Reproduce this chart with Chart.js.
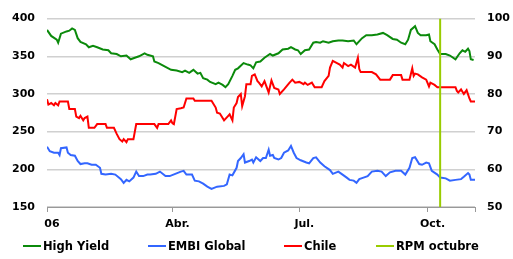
<!DOCTYPE html>
<html><head><meta charset="utf-8">
<script src="https://cdn.jsdelivr.net/npm/chart.js@4"></script>
<style>
html,body{margin:0;padding:0;background:#fff;}
#wrap{position:relative;width:513px;height:259px;overflow:hidden;}
#legend{position:absolute;left:0;top:239px;width:513px;height:16px;font:bold 11.5px "DejaVu Sans",sans-serif;color:#000;white-space:nowrap;line-height:14px;}
.item{position:absolute;top:0;display:flex;align-items:center;}
.sw{width:18px;height:2px;margin-right:2px;}
</style></head>
<body><div id="wrap"><canvas id="c" width="513" height="259"></canvas><div id="legend"></div></div>
<script>
// x axis: days since 1 Jan 2006
const tickDays = [0, 90, 181, 273, 307];
const tickLabels = ['06', 'Abr.', 'Jul.', 'Oct.', ''];

const hyDays = [0,3,7,8,10,14,16,18,20,22,24,28,30,33,36,40,44,46,50,53,57,60,63,66,70,72,76,77,80,84,89,93,97,99,102,105,108,110,112,115,117,121,123,126,128,130,133,135,137,141,144,146,148,150,153,156,160,162,166,169,173,175,178,180,182,185,188,191,193,196,198,202,205,209,212,216,220,222,226,229,233,237,241,244,248,251,254,257,259,261,264,266,268,272,274,275,278,280,282,286,289,293,296,298,300,302,303,304,306];
const hyValues = [385,377,372,368,380,383,384,387,385,374,369,366,362,364,362,359,358,354,353,350,351,346,348,350,354,352,350,343,341,337,332,331,329,331,328,332,327,328,321,319,316,313,315,312,309,313,324,332,334,341,339,338,334,342,343,348,353,351,354,359,360,362,359,358,353,358,359,368,369,368,370,368,370,371,371,370,371,366,374,378,378,379,381,378,373,372,368,366,372,385,390,381,378,378,379,370,366,359,353,353,351,346,354,358,356,360,357,346,345];

const embiDays = [0,2,5,8,9,10,14,15,17,20,22,24,27,29,32,35,38,39,42,46,49,53,55,57,59,62,64,66,69,72,74,78,81,85,88,92,96,98,100,104,106,109,112,115,118,122,127,129,131,133,136,137,139,141,142,145,147,148,150,153,155,157,159,160,162,163,166,168,170,173,175,177,179,182,186,188,191,193,196,199,203,205,209,212,215,217,220,222,224,227,230,233,237,240,243,246,250,254,257,260,262,264,267,269,272,274,276,280,282,286,289,293,297,299,302,303,304,307];
const embiValues = [230,224,222,222,219,228,229,222,219,218,211,207,208,208,206,206,202,194,193,194,193,187,182,186,184,189,197,191,191,193,193,194,197,191,191,194,197,198,193,193,185,184,181,177,174,177,178,180,193,192,202,211,215,220,209,211,213,209,216,211,215,215,226,218,219,215,213,215,222,225,231,222,215,212,209,208,215,216,209,204,199,194,197,193,189,186,185,182,187,189,191,197,198,197,191,196,198,198,193,202,215,216,207,206,209,208,198,193,189,188,185,186,187,190,195,193,186,186];

const chileDays = [0,1,3,5,6,8,9,15,16,20,21,23,24,26,27,29,30,34,36,42,43,48,50,52,54,55,57,58,62,64,77,79,80,87,89,90,91,93,96,98,100,105,106,118,121,122,124,127,130,131,133,134,136,137,139,140,142,143,146,147,149,151,152,154,156,159,161,163,166,167,170,174,176,178,181,184,185,187,190,192,197,199,202,203,205,208,210,212,213,216,218,221,223,224,225,233,236,239,246,248,254,255,260,262,263,264,266,269,272,274,275,278,280,293,294,295,297,299,301,303,304,307];
const chileValues = [293,286,288,285,288,285,290,290,280,280,270,268,271,265,268,270,255,255,260,260,255,255,247,240,237,240,236,240,240,260,260,255,260,260,265,261,260,280,281,282,294,294,291,291,282,275,274,265,271,273,265,282,288,296,300,284,297,313,313,324,326,317,315,310,317,302,318,308,306,300,306,315,319,315,316,313,315,312,315,309,309,317,324,335,344,341,339,335,341,337,339,335,348,333,329,329,326,319,319,325,325,319,319,334,324,327,326,322,319,310,315,312,309,309,304,302,306,300,305,294,290,290];

const rpmDays = [282, 282];
const rpmValues = [150, 400];

const seriesNames = ['High Yield', 'EMBI Global', 'Chile', 'RPM octubre'];
const seriesColors = ['#0b8a0b', '#3366ff', '#ff0000', '#99cc00'];
const legendLeft = [23, 148, 284, 376];

const toPts = (d, v) => d.map((x, i) => ({x: x, y: v[i]}));
const font = {family: 'DejaVu Sans', weight: 'bold', size: 11};

const datasets = [
  {label: seriesNames[0], data: toPts(hyDays, hyValues), borderColor: seriesColors[0], order: 3},
  {label: seriesNames[1], data: toPts(embiDays, embiValues), borderColor: seriesColors[1], order: 2},
  {label: seriesNames[2], data: toPts(chileDays, chileValues), borderColor: seriesColors[2], order: 1},
  {label: seriesNames[3], data: toPts(rpmDays, rpmValues), borderColor: seriesColors[3], order: 0}
].map(d => Object.assign(d, {borderWidth: 2, pointRadius: 0, tension: 0, fill: false, yAxisID: 'y'}));

new Chart(document.getElementById('c'), {
  type: 'line',
  data: {datasets: datasets},
  options: {
    responsive: false,
    animation: false,
    layout: {padding: {left: 0, right: 0, top: 17, bottom: 27}},
    plugins: {legend: {display: false}, tooltip: {enabled: false}},
    scales: {
      x: {
        type: 'linear', min: 0, max: 307,
        afterBuildTicks: s => { s.ticks = tickDays.map(v => ({value: v})); },
        afterFit: s => { s.height = 25; },
        ticks: {autoSkip: false, maxRotation: 0, padding: 6, labelOffset: 5, color: '#000', font: font,
          callback: v => { const i = tickDays.indexOf(v); return i >= 0 ? tickLabels[i] : ''; }},
        grid: {drawOnChartArea: false, drawTicks: true, tickLength: 5, color: '#999'},
        border: {color: '#999', width: 1}
      },
      y: {
        position: 'left', min: 150, max: 400,
        afterFit: s => { s.width = 47; },
        ticks: {stepSize: 50, padding: 12, color: '#000', font: font},
        grid: {color: '#d0d0d0', lineWidth: 1.5, drawTicks: false},
        border: {display: false}
      },
      y2: {
        position: 'right', min: 50, max: 100,
        afterFit: s => { s.width = 38; },
        ticks: {stepSize: 10, padding: 12, color: '#000', font: font},
        grid: {drawOnChartArea: false, drawTicks: false},
        border: {display: false}
      }
    }
  }
});

const lg = document.getElementById('legend');
seriesNames.forEach((n, i) => {
  const it = document.createElement('div'); it.className = 'item'; it.style.left = legendLeft[i] + 'px';
  const sw = document.createElement('span'); sw.className = 'sw'; sw.style.background = seriesColors[i];
  const tx = document.createElement('span'); tx.textContent = n;
  it.appendChild(sw); it.appendChild(tx); lg.appendChild(it);
});
</script>
</body></html>
